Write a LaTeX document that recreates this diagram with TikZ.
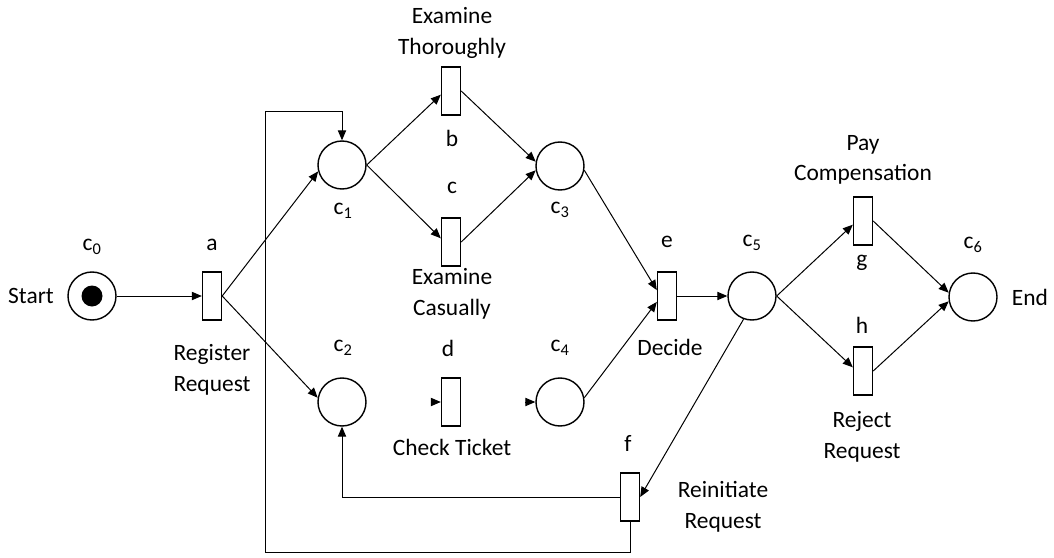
\documentclass[tikz,border=0pt]{standalone}
\usepackage{fontspec}
\setmainfont{Carlito}
\usetikzlibrary{arrows.meta}
\tikzset{
    place_node/.style = {circle, draw=black, line width=1.2pt, minimum size=1.44cm, inner sep=0pt},
    trans_node/.style = {rectangle, draw=black, line width=1.2pt, minimum width=0.57cm, minimum height=1.44cm, inner sep=0pt},
    token_node/.style = {circle, fill=black, minimum size=0.63cm, inner sep=0pt},
    text_node/.style = {align=center, inner sep=0pt, font=\fontsize{20}{26}\selectfont},
    arc_line/.style = {-{Triangle[length=0.3cm, width=0.25cm]}, line width=0.85pt}
}

\begin{document}
\begin{tikzpicture}
            [x=0.03cm, y=-0.03cm]

            \useasboundingbox (0,0) rectangle (1054,558);

            % places and transitions
            \node [place_node] (c0) at (92,296) {};
            \node [token_node] (tok) at (c0) {};
            \node [trans_node] (a) at (212,296) {};
            \node [place_node] (c1) at (342,165) {};
            \node [place_node] (c2) at (342,402) {};
            \node [trans_node] (b) at (451,91) {};
            \node [trans_node] (c) at (451,242) {};
            \node [trans_node] (d) at (451,402) {};
            \node [place_node] (c3) at (560,166) {};
            \node [place_node] (c4) at (560,402) {};
            \node [trans_node] (e) at (667,296) {};
            \node [place_node] (c5) at (752,296) {};
            \node [trans_node] (f) at (630,497) {};
            \node [trans_node] (g) at (863,221) {};
            \node [trans_node] (h) at (863,371) {};
            \node [place_node] (c6) at (973,297) {};

            % labels
            \node [text_node] (start_lbl) at (31,296) {Start};
            \node [text_node] (end_lbl) at (1030,297) {End};
            \node [text_node] (c0_lbl) at (92,247) {c\textsubscript{0}};
            \node [text_node] (c1_lbl) at (343,211) {c\textsubscript{1}};
            \node [text_node] (c2_lbl) at (343,348) {c\textsubscript{2}};
            \node [text_node] (c3_lbl) at (560,210) {c\textsubscript{3}};
            \node [text_node] (c4_lbl) at (560,348) {c\textsubscript{4}};
            \node [text_node] (c5_lbl) at (752,243) {c\textsubscript{5}};
            \node [text_node] (c6_lbl) at (973,245) {c\textsubscript{6}};
            \node [text_node] (a_lbl) at (212,245) {a};
            \node [text_node] (a_txt) at (212,370) {Register\\Request};
            \node [text_node] (b_lbl) at (452,138) {b};
            \node [text_node] (b_txt) at (452,33) {Examine\\Thoroughly};
            \node [text_node] (c_lbl) at (452,188) {c};
            \node [text_node] (c_txt) at (452,294) {Examine\\Casually};
            \node [text_node] (d_lbl) at (448,348) {d};
            \node [text_node] (d_txt) at (452,447) {Check Ticket};
            \node [text_node] (e_lbl) at (667,242) {e};
            \node [text_node] (e_txt) at (670,347) {Decide};
            \node [text_node] (f_lbl) at (628,443) {f};
            \node [text_node] (f_txt) at (723,507) {Reinitiate\\Request};
            \node [text_node] (g_lbl) at (862,263) {g};
            \node [text_node] (g_txt) at (863,160) {Pay\\Compensation};
            \node [text_node] (h_lbl) at (862,325) {h};
            \node [text_node] (h_txt) at (862,437) {Reject\\Request};

            \coordinate (back_bl) at (265,552);
            \coordinate (back_tl) at (265,111);

            % arcs
            \draw [arc_line] (c0.east) -- (a.west);
            \draw [arc_line] (a.east) -- (c1.195);
            \draw [arc_line] (a.east) -- (c2.170);
            \draw [arc_line] (c1.east) -- (b.200);
            \draw [arc_line] (c1.east) -- (c.160);
            \draw [arc_line] (b.east) -- (c3.170);
            \draw [arc_line] (c.east) -- (c3.190);
            \draw [arc_line] (c3.350) -- (e.150);
            \draw [arc_line] (c4.10) -- (e.210);
            \draw [arc_line] (e.east) -- (c5.west);
            \draw [arc_line] (c5.east) -- (g.200);
            \draw [arc_line] (c5.east) -- (h.160);
            \draw [arc_line] (g.east) -- (c6.170);
            \draw [arc_line] (h.east) -- (c6.190);
            \draw [arc_line] (c5.250) -- (f.east);
            \draw [arc_line] (f.west) -| (c2.south);
            \draw [arc_line] (f.south) |- (back_bl) -- (back_tl) -| (c1.north);
            \draw [arc_line] ([xshift=-0.3cm]d.west) -- (d.west);
            \draw [arc_line] ([xshift=-0.3cm]c4.west) -- (c4.west);
\end{tikzpicture}
\end{document}
